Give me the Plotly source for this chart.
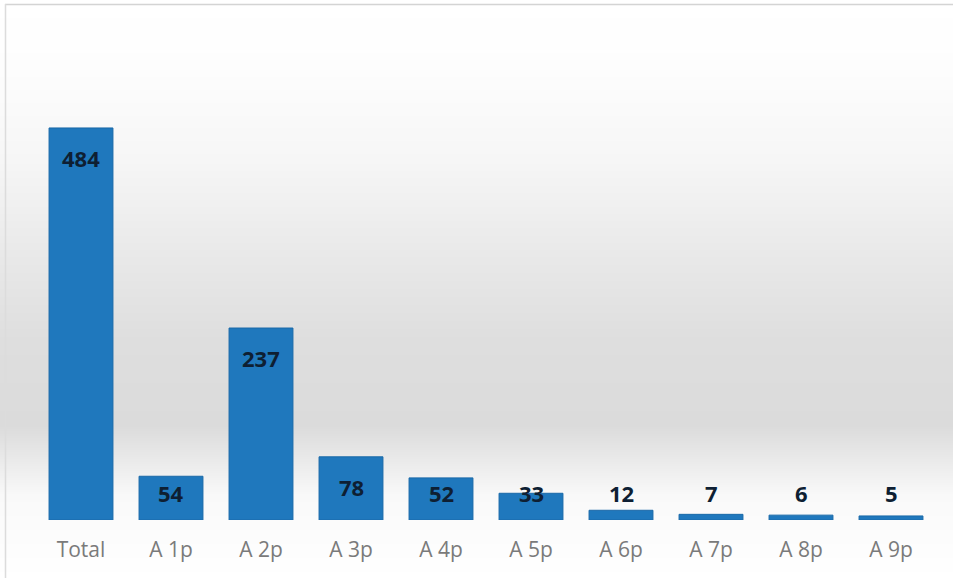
import plotly.graph_objects as go

categories = ["Total", "A 1p", "A 2p", "A 3p", "A 4p", "A 5p", "A 6p", "A 7p", "A 8p", "A 9p"]
values = [484, 54, 237, 78, 52, 33, 12, 7, 6, 5]

# background gradient stops (pixel row, gray level)
bg_rows = [0, 70, 160, 260, 340, 425, 460, 495, 578]
bg_gray = [255, 253, 246, 232, 222, 219, 234, 249, 255]

W, H = 953, 578
fig = go.Figure()

fig.add_trace(go.Heatmap(
    x=[0, W], y=bg_rows, z=[[g, g] for g in bg_gray],
    zmin=0, zmax=255, zsmooth="best",
    colorscale=[[0, "rgb(0,0,0)"], [1, "rgb(255,255,255)"]],
    showscale=False, hoverinfo="skip", xaxis="x", yaxis="y",
))

fig.add_trace(go.Bar(
    x=categories, y=values, xaxis="x2", yaxis="y2",
    marker=dict(color="#1f78bd", line=dict(color="#1a69a8", width=1)),
    width=0.71, hoverinfo="skip",
))

annotations = []
for c, v in zip(categories, values):
    annotations.append(dict(
        x=c, y=max(v, 70), xref="x2", yref="y2", text=str(v), showarrow=False,
        yanchor="middle", yshift=-30,
        font=dict(family="Noto Sans", size=22, color="#0e1f33", weight="bold"),
    ))

fig.update_layout(
    width=W, height=H,
    margin=dict(l=0, r=0, t=0, b=0),
    paper_bgcolor="white", plot_bgcolor="rgba(0,0,0,0)",
    showlegend=False,
    xaxis=dict(domain=[0, 1], range=[0, W], visible=False, fixedrange=True),
    yaxis=dict(domain=[0, 1], range=[H, 0], visible=False, fixedrange=True),
    xaxis2=dict(domain=[36 / W, 936 / W], anchor="y2", showgrid=False, zeroline=False,
                showline=False, ticks="outside", ticklen=11, tickcolor="rgba(0,0,0,0)",
                tickfont=dict(family="Open Sans", size=21, color="#7a7a7a")),
    yaxis2=dict(domain=[(H - 520) / H, (H - 40) / H], anchor="x2", range=[0, 480 / 0.81],
                visible=False, showgrid=False),
    annotations=annotations,
    shapes=[
        dict(type="line", xref="paper", yref="paper", x0=5 / W, x1=1, y0=(H - 4.5) / H, y1=(H - 4.5) / H,
             line=dict(color="#d4d4d4", width=1.5)),
        dict(type="line", xref="paper", yref="paper", x0=5.5 / W, x1=5.5 / W, y0=0, y1=(H - 4) / H,
             line=dict(color="#dcdcdc", width=1.5)),
    ],
)

fig.write_html("out.html", config={"displayModeBar": False},
               post_script="document.body.style.margin='0px';document.body.style.overflow='hidden';")
